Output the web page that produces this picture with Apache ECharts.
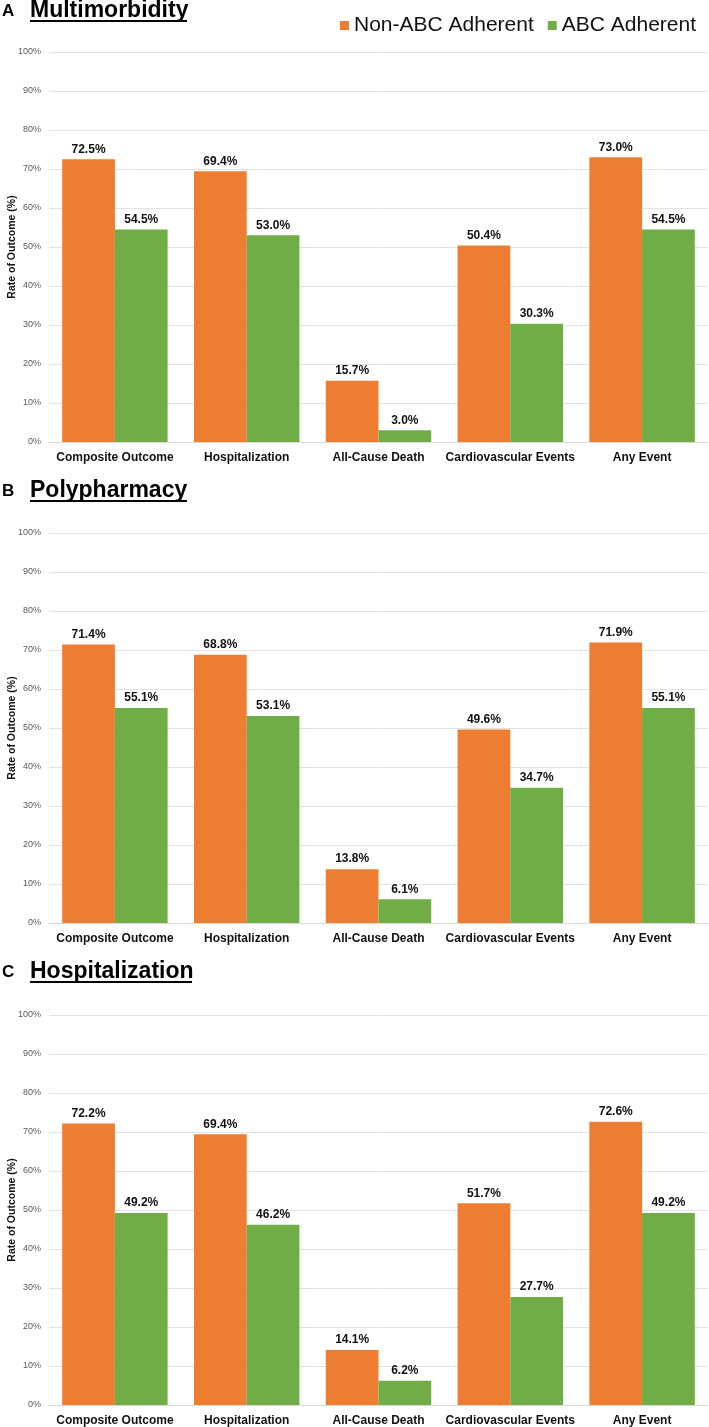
<!DOCTYPE html>
<html>
<head>
<meta charset="utf-8">
<script src="https://cdn.jsdelivr.net/npm/echarts@6/dist/echarts.min.js"></script>
<style>
    html, body { margin: 0; padding: 0; background: #fff; }
    #chart { width: 709px; height: 1427px; }
</style>
</head>
<body>
<div id="chart"></div>
<script>
    // data
    const categories = ['Composite Outcome', 'Hospitalization', 'All-Cause Death', 'Cardiovascular Events', 'Any Event'];
    const panelLetters = ['A', 'B', 'C'];
    const panelTitles = ['Multimorbidity', 'Polypharmacy', 'Hospitalization'];
    const seriesNames = ['Non-ABC Adherent', 'ABC Adherent'];
    const nonAdherentA = [72.5, 69.4, 15.7, 50.4, 73.0];
    const adherentA = [54.5, 53.0, 3.0, 30.3, 54.5];
    const nonAdherentB = [71.4, 68.8, 13.8, 49.6, 71.9];
    const adherentB = [55.1, 53.1, 6.1, 34.7, 55.1];
    const nonAdherentC = [72.2, 69.4, 14.1, 51.7, 72.6];
    const adherentC = [49.2, 46.2, 6.2, 27.7, 49.2];

    const panelData = [
        [nonAdherentA, adherentA],
        [nonAdherentB, adherentB],
        [nonAdherentC, adherentC]
    ];
    const colors = ['#ED7D31', '#70AD47'];
    const gridTops = [52, 533, 1015];
    const titleTops = [0, 480, 961];
    const font = 'Liberation Sans, Arial, sans-serif';

    const grids = [], xAxes = [], yAxes = [], series = [], graphics = [];
    for (let i = 0; i < 3; i++) {
        grids.push({left: 49, right: 1, top: gridTops[i], height: 390, containLabel: false, outerBoundsMode: 'none'});
        xAxes.push({
            type: 'category',
            gridIndex: i,
            data: categories,
            axisTick: {show: false},
            axisLine: {lineStyle: {color: '#d9d9d9', width: 1}},
            axisLabel: {
                interval: 0,
                margin: 10,
                color: '#111',
                fontFamily: font,
                fontWeight: 'bold',
                fontSize: 12
            }
        });
        yAxes.push({
            type: 'value',
            gridIndex: i,
            min: 0,
            max: 100,
            interval: 10,
            name: 'Rate of Outcome (%)',
            nameLocation: 'middle',
            nameGap: 31,
            nameMoveOverlap: false,
            nameTextStyle: {color: '#111', fontFamily: font, fontSize: 10.5, fontWeight: 'bold'},
            axisLine: {show: false},
            axisTick: {show: false},
            splitLine: {lineStyle: {color: '#e3e3e3', width: 1}},
            axisLabel: {
                formatter: '{value}%',
                margin: 8,
                color: '#595959',
                fontFamily: font,
                fontSize: 9
            }
        });
        for (let s = 0; s < 2; s++) {
            series.push({
                name: seriesNames[s],
                type: 'bar',
                xAxisIndex: i,
                yAxisIndex: i,
                data: panelData[i][s],
                barGap: '0%',
                barCategoryGap: '20%',
                itemStyle: {color: colors[s]},
                label: {
                    show: true,
                    position: 'top',
                    distance: 4,
                    formatter: p => p.value.toFixed(1) + '%',
                    color: '#111',
                    fontFamily: font,
                    fontWeight: 'bold',
                    fontSize: 12
                }
            });
        }
        graphics.push({
            type: 'text',
            left: 2,
            top: titleTops[i] + 3,
            style: {text: panelLetters[i], font: 'bold 17px ' + font, fill: '#000'}
        });
        graphics.push({
            type: 'text',
            left: 30,
            top: titleTops[i] - 1,
            style: {text: panelTitles[i], font: 'bold 23px ' + font, fill: '#000'}
        });
        graphics.push({
            type: 'rect',
            shape: {x: 30, y: titleTops[i] + 20, width: i === 2 ? 162 : 157, height: 2},
            style: {fill: '#000'}
        });
    }

    const chart = echarts.init(document.getElementById('chart'));
    chart.setOption({
        animation: false,
        legend: {
            data: seriesNames,
            right: 8,
            top: 10,
            itemWidth: 9,
            itemHeight: 9,
            itemGap: 14,
            icon: 'rect',
            textStyle: {fontFamily: font, fontSize: 21, color: '#111'}
        },
        grid: grids,
        xAxis: xAxes,
        yAxis: yAxes,
        series: series,
        graphic: graphics
    });
</script>
</body>
</html>
